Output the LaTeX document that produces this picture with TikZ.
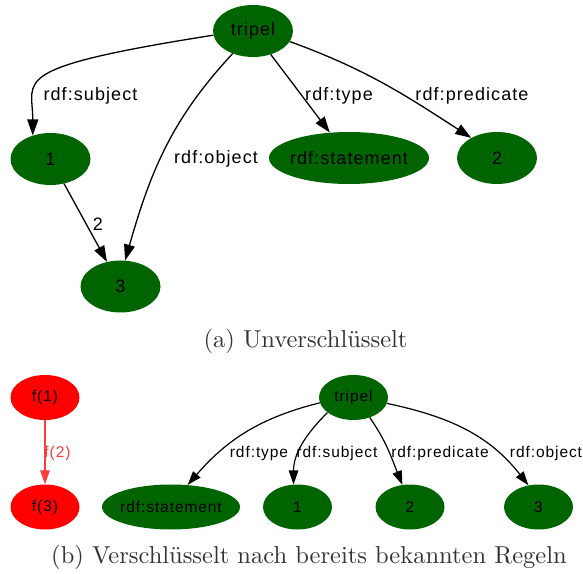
\documentclass[tikz,border=0pt]{standalone}
\usepackage{fontspec}
\usetikzlibrary{shapes.geometric, arrows.meta}
\newfontfamily\gvfont[LetterSpace=6]{Liberation Sans}
\definecolor{gvgreen}{HTML}{006400}
\definecolor{gvred}{HTML}{FF0000}
\definecolor{gvredline}{HTML}{FF3B3B}
\tikzset{gnode/.style={ellipse, fill=gvgreen, inner sep=0pt, minimum width=80pt, minimum height=52pt, font=\gvfont\fontsize{18}{20}\selectfont}}
\tikzset{bnode/.style={ellipse, fill=gvgreen, inner sep=0pt, minimum width=69pt, minimum height=45pt, font=\gvfont\fontsize{15.5}{17}\selectfont}}
\tikzset{rnode/.style={bnode, fill=gvred}}
\tikzset{pfeil/.style={-{Triangle[length=16pt,width=11pt]}, line width=1.3pt}}
\tikzset{pfeilB/.style={-{Triangle[length=14pt,width=9.5pt]}, line width=1.2pt}}

\begin{document}
\begin{tikzpicture}[x=1pt, y=1pt,
lblA/.style={inner sep=0pt, font=\gvfont\fontsize{18}{20}\selectfont},
lblB/.style={inner sep=0pt, font=\gvfont\fontsize{15.5}{17}\selectfont},
capt/.style={scale=2.45, anchor=base, text=black!80}]
\useasboundingbox (0,0) rectangle (583,573);

% (a) unverschluesselt
\node[gnode] (tripelA) at (253,542) {tripel};
\node[gnode] (einsA) at (50.5,414) {1};
\node[gnode, minimum width=160pt, inner xsep=-20pt] (stmtA) at (349,415) {rdf:statement};
\node[gnode] (zweiA) at (497,415) {2};
\node[gnode] (dreiA) at (120.5,286.5) {3};

\draw[pfeil] (tripelA.186) to [out=189, in=90, out looseness=2.6, in looseness=0.7] (einsA.127);
\draw[pfeil] (tripelA.228) to [out=227, in=74] (dreiA.80);
\draw[pfeil] (tripelA) -- (stmtA);
\draw[pfeil] (tripelA.344) to [out=-20, in=147] (zweiA.142);
\draw[pfeil] (einsA) -- (dreiA);

\node[lblA] (lsubjA) at (90.5,477) {rdf:subject};
\node[lblA] (lobjA) at (216,414) {rdf:object};
\node[lblA] (ltypeA) at (339,477) {rdf:type};
\node[lblA] (lpredA) at (472,477) {rdf:predicate};
\node[lblA] (lzweiA) at (98,349) {2};

\node[capt] (captA) at (305.5,225) {(a) Unverschlüsselt};

% (b) verschluesselt
\node[rnode] (fEins) at (45,175.5) {f(1)};
\node[rnode] (fDrei) at (45,66) {f(3)};
\node[bnode] (tripelB) at (353.5,175.5) {tripel};
\node[bnode, minimum width=138pt, inner xsep=-20pt] (stmtB) at (171,66) {rdf:statement};
\node[bnode] (einsB) at (297.5,66) {1};
\node[bnode] (zweiB) at (410,66) {2};
\node[bnode] (dreiB) at (538.5,66) {3};

\draw[pfeilB, color=gvredline] (fEins) -- (fDrei);
\draw[pfeilB] (tripelB.189) to [out=194, in=49] (stmtB.53);
\draw[pfeilB] (tripelB.210) to [out=225, in=90] (einsB.100);
\draw[pfeilB] (tripelB.309) to [out=-55, in=112] (zweiB.109);
\draw[pfeilB] (tripelB.350) to [out=-12, in=128] (dreiB.115);

\node[lblB, text=gvredline] (lfZwei) at (57.5,120) {f(2)};
\node[lblB] (ltypeB) at (259,120) {rdf:type};
\node[lblB] (lsubjB) at (337,120) {rdf:subject};
\node[lblB] (lpredB) at (440,120) {rdf:predicate};
\node[lblB] (lobjB) at (546,120) {rdf:object};

\node[capt] (captB) at (309,10) {(b) Verschlüsselt nach bereits bekannten Regeln};
\end{tikzpicture}
\end{document}
